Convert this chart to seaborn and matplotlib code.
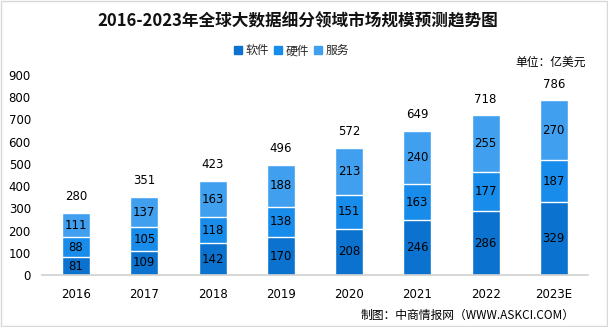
import matplotlib
matplotlib.use("Agg")
import matplotlib.pyplot as plt
import matplotlib.patches as mpatches
import seaborn as sns
import pandas as pd

years = ["2016", "2017", "2018", "2019", "2020", "2021", "2022", "2023E"]
software = [81, 109, 142, 170, 208, 246, 286, 329]
hardware = [88, 105, 118, 138, 151, 163, 177, 187]
service = [111, 137, 163, 188, 213, 240, 255, 270]
totals = [280, 351, 423, 496, 572, 649, 718, 786]
series_names = ["软件", "硬件", "服务"]
colors = ["#0b73cf", "#178ceb", "#40a0ef"]

sns.set_theme(style="white")
plt.rcParams['font.family'] = ['Noto Sans CJK SC', 'DejaVu Sans']

df = pd.DataFrame({"year": years, "software": software, "hardware": hardware, "service": service})
df["cum2"] = df["software"] + df["hardware"]
df["cum3"] = df["cum2"] + df["service"]

fig = plt.figure(figsize=(6.08, 3.27), dpi=100)
ax = fig.add_axes([0.069, 0.159, 0.898, 0.612])

w = 0.41
sns.barplot(data=df, x="year", y="cum3", color=colors[2], width=w, saturation=1, ax=ax, order=years)
sns.barplot(data=df, x="year", y="cum2", color=colors[1], width=w, saturation=1, ax=ax, order=years)
sns.barplot(data=df, x="year", y="software", color=colors[0], width=w, saturation=1, ax=ax, order=years)

for i in range(len(years)):
    s, h, v = software[i], hardware[i], service[i]
    kw = dict(ha="center", va="center", fontsize=8.5, color="black", family="DejaVu Sans")
    ax.text(i, s / 2, str(s), **kw)
    ax.text(i, s + h / 2, str(h), **kw)
    ax.text(i, s + h + v / 2, str(v), **kw)
    ax.text(i, totals[i] + 72, str(totals[i]), **kw)

ax.set_xlim(-0.5, 7.5)
ax.set_ylim(0, 900)
ax.set_yticks(range(0, 1000, 100))
ax.set_xlabel("")
ax.set_ylabel("")
for sp in ["top", "right", "left"]:
    ax.spines[sp].set_visible(False)
ax.spines["bottom"].set_color("#d0d0d0")
ax.spines["bottom"].set_linewidth(1.2)
ax.tick_params(axis="both", length=0, labelsize=8.5, colors="black")
ax.tick_params(axis="x", pad=9)
ax.tick_params(axis="y", pad=8)
for lab in ax.get_xticklabels() + ax.get_yticklabels():
    lab.set_family("DejaVu Sans")

fig.text(0.49, 0.935, "2016-2023年全球大数据细分领域市场规模预测趋势图", ha="center", va="center",
         fontsize=12, fontweight="bold", color="#111111")

handles = [mpatches.Patch(color=c, label=n) for c, n in zip(colors, series_names)]
fig.legend(handles=handles, loc="center", bbox_to_anchor=(0.48, 0.845), ncol=3, frameon=False,
           fontsize=8.5, handlelength=0.7, handleheight=0.7, handletextpad=0.3, columnspacing=0.4)

fig.text(0.963, 0.81, "单位：亿美元", ha="right", va="center", fontsize=8.5, color="black")
fig.text(0.945, 0.035, "制图：中商情报网（WWW.ASKCI.COM）", ha="right", va="center", fontsize=8.5, color="black")

fig.patches.append(mpatches.Rectangle((0.001, 0.002), 0.997, 0.995, transform=fig.transFigure,
                                      fill=False, edgecolor="#d8d8d8", linewidth=1))

fig.savefig("out.png", dpi=100)
